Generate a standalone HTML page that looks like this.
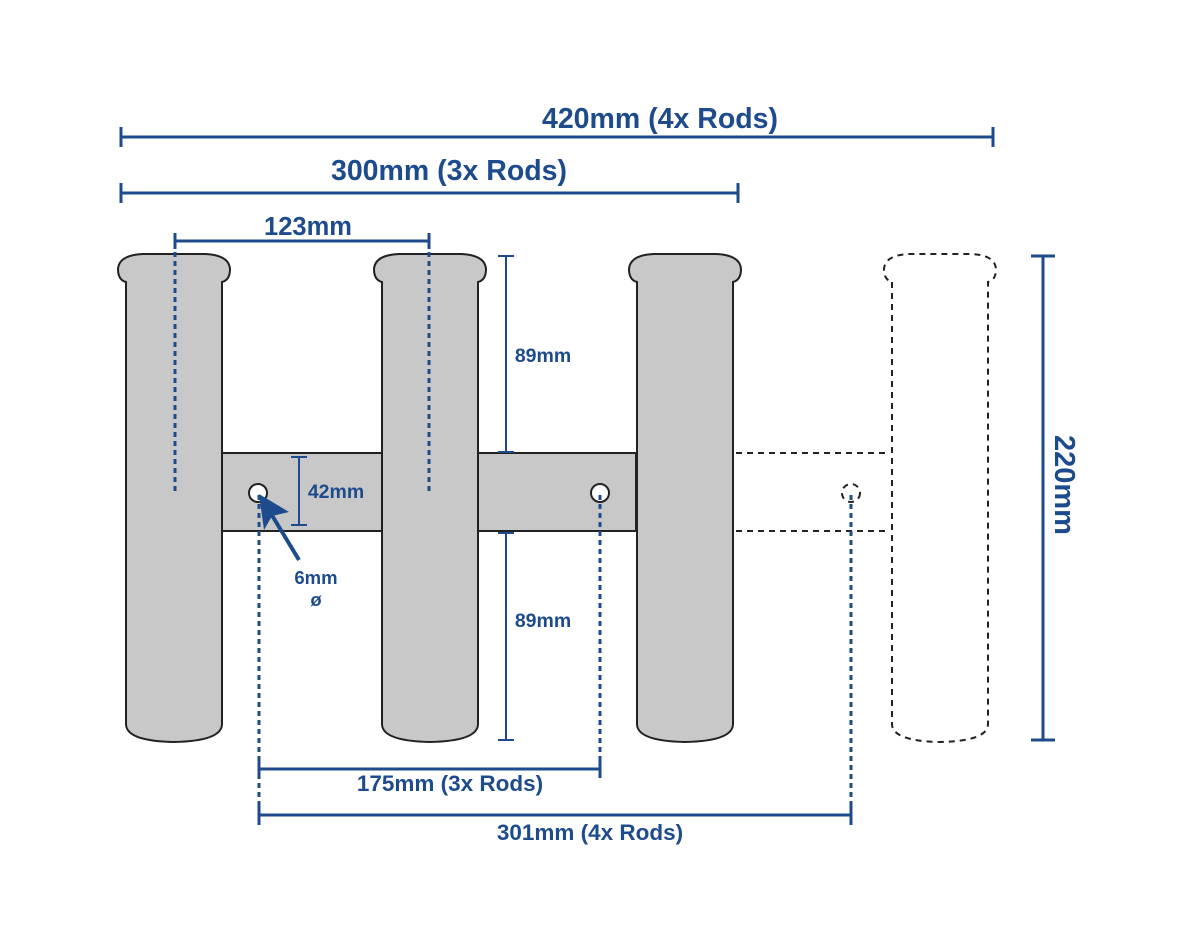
<!DOCTYPE html>
<html><head><style>body{margin:0;background:#fff}svg{display:block}text{font-family:"Liberation Sans",sans-serif;font-weight:bold;fill:#1d4b8c}</style></head><body>
<svg width="1200" height="950" viewBox="0 0 1200 950">
<defs>
<path id="tube" d="M8,28 L8,470 Q8,487 56,488 Q104,487 104,470 L104,28 Q112,26 112,15 Q111,1 87,0 L25,0 Q1,1 0,15 Q0,26 8,28 Z"/>
</defs>
<rect x="222" y="453" width="414" height="78" fill="#c8c8c8" stroke="#222" stroke-width="2"/>
<use href="#tube" x="118" y="254" fill="#c8c8c8" stroke="#222" stroke-width="2"/>
<use href="#tube" x="374" y="254" fill="#c8c8c8" stroke="#222" stroke-width="2"/>
<use href="#tube" x="629" y="254" fill="#c8c8c8" stroke="#222" stroke-width="2"/>
<use href="#tube" x="884" y="254" fill="none" stroke="#222" stroke-width="2" stroke-dasharray="6,5"/>
<g stroke="#222" stroke-width="2" stroke-dasharray="6,5">
<line x1="736" y1="453" x2="890" y2="453"/><line x1="736" y1="531" x2="890" y2="531"/>
<circle cx="851" cy="493" r="9" fill="none"/>
</g>
<circle cx="258" cy="493" r="9" fill="#fff" stroke="#222" stroke-width="2"/>
<circle cx="600" cy="493" r="9" fill="#fff" stroke="#222" stroke-width="2"/>
<g stroke="#1d4b8c" stroke-width="3" stroke-dasharray="5,4" fill="none">
<line x1="175" y1="243" x2="175" y2="494"/>
<line x1="429" y1="243" x2="429" y2="494"/>
<line x1="259" y1="495" x2="259" y2="815"/>
<line x1="600" y1="495" x2="600" y2="769"/>
<line x1="851" y1="495" x2="851" y2="815"/>
</g>
<g stroke="#1d4b8c" stroke-width="3" fill="none">
<line x1="121" y1="137" x2="993" y2="137"/><line x1="121" y1="127" x2="121" y2="147"/><line x1="993" y1="127" x2="993" y2="147"/>
<line x1="121" y1="193" x2="738" y2="193"/><line x1="121" y1="183" x2="121" y2="203"/><line x1="738" y1="183" x2="738" y2="203"/>
<line x1="175" y1="241" x2="429" y2="241"/><line x1="175" y1="233" x2="175" y2="249"/><line x1="429" y1="233" x2="429" y2="249"/>
<line x1="259" y1="769" x2="600" y2="769"/><line x1="259" y1="760" x2="259" y2="778"/><line x1="600" y1="760" x2="600" y2="778"/>
<line x1="259" y1="815" x2="851" y2="815"/><line x1="259" y1="805" x2="259" y2="825"/><line x1="851" y1="805" x2="851" y2="825"/>
<line x1="1043" y1="256" x2="1043" y2="740"/><line x1="1031" y1="256" x2="1055" y2="256"/><line x1="1031" y1="740" x2="1055" y2="740"/>
</g>
<g stroke="#1d4b8c" stroke-width="2" fill="none">
<line x1="506" y1="256" x2="506" y2="452"/><line x1="498" y1="256" x2="514" y2="256"/><line x1="498" y1="452" x2="514" y2="452"/>
<line x1="506" y1="533" x2="506" y2="740"/><line x1="498" y1="533" x2="514" y2="533"/><line x1="498" y1="740" x2="514" y2="740"/>
<line x1="299" y1="457" x2="299" y2="525"/><line x1="291" y1="457" x2="307" y2="457"/><line x1="291" y1="525" x2="307" y2="525"/>
</g>
<line x1="299" y1="560" x2="270" y2="512" stroke="#1d4b8c" stroke-width="4"/>
<polygon points="259,494 289,512 272,516 264,530" fill="#1d4b8c"/>
<text x="660" y="128" font-size="28.5" text-anchor="middle">420mm (4x Rods)</text>
<text x="449" y="180" font-size="28.5" text-anchor="middle">300mm (3x Rods)</text>
<text x="308" y="235" font-size="25.5" text-anchor="middle">123mm</text>
<text x="543" y="362" font-size="19.5" text-anchor="middle">89mm</text>
<text x="543" y="627" font-size="19.5" text-anchor="middle">89mm</text>
<text x="336" y="498" font-size="19.5" text-anchor="middle">42mm</text>
<text x="316" y="584" font-size="18.5" text-anchor="middle">6mm</text>
<text x="316" y="606" font-size="18.5" text-anchor="middle">ø</text>
<text x="450" y="791" font-size="22.5" text-anchor="middle">175mm (3x Rods)</text>
<text x="590" y="840" font-size="22.5" text-anchor="middle">301mm (4x Rods)</text>
<text x="0" y="0" font-size="29" text-anchor="middle" transform="translate(1055,485) rotate(90)">220mm</text>
</svg>
</body></html>
